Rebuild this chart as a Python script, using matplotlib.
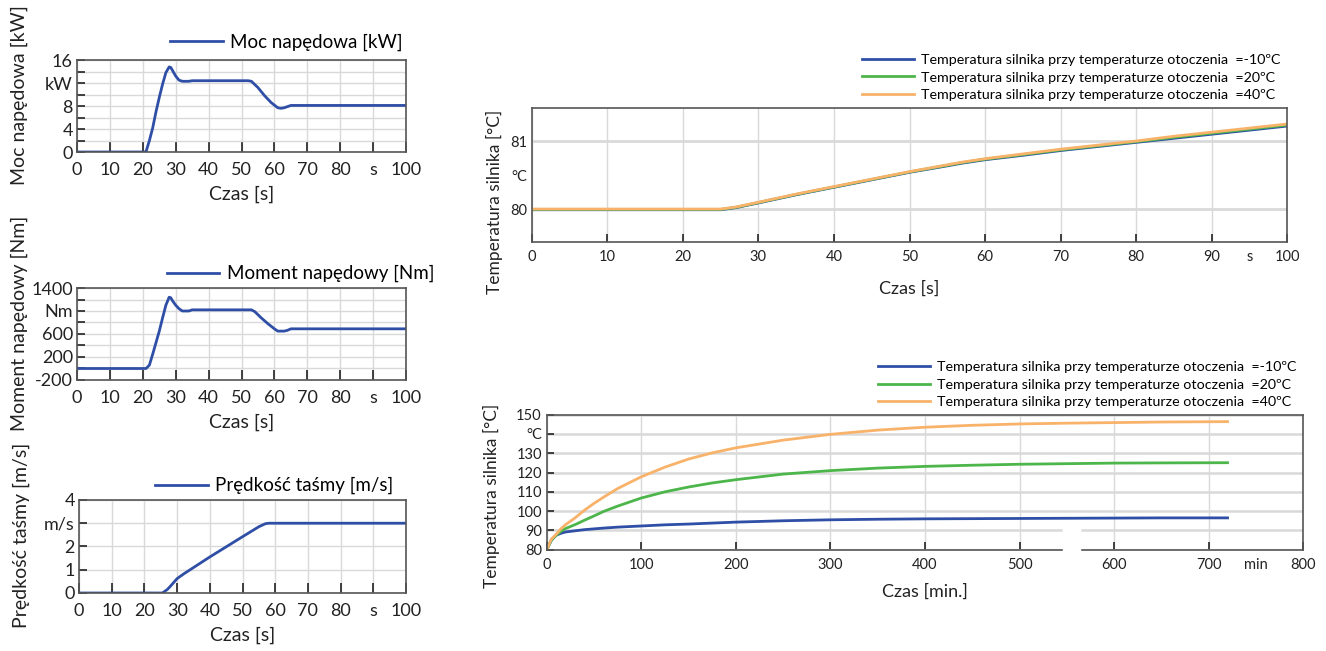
import matplotlib.pyplot as plt
import matplotlib.ticker as mticker

plt.rcParams['font.family'] = ['Lato', 'DejaVu Sans']

# --- dane: panele po lewej (czas w s) ---
t_moc = [0, 20.5, 21, 22, 23, 24, 25, 26, 27, 28, 28.5, 29, 30, 31, 32, 34, 35, 52, 53, 55, 57, 59, 61, 62, 63, 64, 65, 100]
moc = [0, 0, 0.1, 2, 4.2, 7, 9.5, 11.8, 13.8, 14.8, 14.7, 14.2, 13.2, 12.5, 12.3, 12.3, 12.4, 12.4, 12.3, 11.2, 9.8, 8.6, 7.7, 7.6, 7.7, 7.9, 8.1, 8.1]

t_mom = [0, 21, 22, 23, 24, 25, 26, 27, 28, 28.5, 29, 30, 31, 32, 34, 35, 53, 54, 56, 58, 60, 61, 63, 64, 65, 100]
moment = [0, 0, 60, 250, 450, 650, 880, 1100, 1240, 1230, 1180, 1100, 1040, 1000, 1000, 1020, 1020, 990, 880, 780, 690, 650, 650, 665, 690, 690]

t_pr = [0, 25.5, 27, 28, 30, 32, 40, 50, 55, 57, 58, 100]
predkosc = [0, 0, 0.15, 0.3, 0.62, 0.82, 1.55, 2.42, 2.85, 2.98, 3.0, 3.0]

# --- dane: temperatura silnika, 0-100 s ---
t_krotki = [0, 10, 23, 25, 27, 30, 35, 40, 45, 50, 55, 57, 60, 65, 70, 75, 80, 85, 90, 95, 100]
temp_k_m10 = [79.99, 79.99, 79.99, 79.99, 80.02, 80.09, 80.21, 80.32, 80.43, 80.54, 80.635, 80.675, 80.725, 80.79, 80.86, 80.92, 80.98, 81.04, 81.1, 81.16, 81.22]
temp_k_20 = [79.995, 79.995, 79.995, 79.995, 80.025, 80.095, 80.215, 80.325, 80.435, 80.545, 80.643, 80.683, 80.733, 80.8, 80.87, 80.93, 80.99, 81.055, 81.115, 81.175, 81.235]
temp_k_40 = [80.0, 80.0, 80.0, 80.0, 80.03, 80.1, 80.22, 80.33, 80.44, 80.55, 80.65, 80.69, 80.74, 80.81, 80.88, 80.94, 81.0, 81.07, 81.13, 81.19, 81.25]

# --- dane: temperatura silnika, 0-720 min ---
t_dlugi = [0, 5, 10, 15, 20, 30, 40, 50, 60, 75, 100, 125, 150, 175, 200, 250, 300, 350, 400, 450, 500, 550, 600, 650, 720]
temp_d_m10 = [80, 85, 87.5, 88.5, 89.2, 89.8, 90.4, 90.8, 91.2, 91.7, 92.3, 92.9, 93.3, 93.8, 94.3, 95.0, 95.5, 95.8, 96.0, 96.1, 96.2, 96.3, 96.4, 96.5, 96.5]
temp_d_20 = [80, 85, 87.5, 89.5, 91, 93, 95.3, 97.5, 99.8, 102.6, 106.8, 110.0, 112.5, 114.6, 116.3, 119.2, 121, 122.3, 123.2, 123.8, 124.3, 124.6, 124.9, 125.0, 125.1]
temp_d_40 = [80, 85.5, 88, 90.8, 93, 96.5, 100.5, 104, 107.2, 111.7, 117.8, 122.8, 127, 130.2, 132.8, 136.8, 139.8, 142, 143.5, 144.5, 145.2, 145.6, 145.9, 146.2, 146.4]

leg_lab = ['Temperatura silnika przy temperaturze otoczenia  =-10ºC',
           'Temperatura silnika przy temperaturze otoczenia  =20ºC',
           'Temperatura silnika przy temperaturze otoczenia  =40ºC']

BLUE = '#2f4ea6'
GREEN = '#4cb64a'
ORANGE = '#f8b26a'
GRID = '#d9d9d9'
TXT = '#222222'

fig = plt.figure(figsize=(13.26, 6.51), dpi=100)


def left_panel(rect, t, y, ylim, yticks, ylabels, minor, label, ylab, leg_x, leg_y):
	ax = fig.add_axes(rect)
	ax.plot(t, y, color=BLUE, lw=2, label=label)
	ax.set_xlim(0, 100)
	ax.set_ylim(*ylim)
	ax.set_xticks(range(0, 101, 10))
	ax.set_xticklabels(['0', '10', '20', '30', '40', '50', '60', '70', '80', 's', '100'])
	ax.set_yticks(yticks)
	ax.set_yticklabels(ylabels)
	ax.yaxis.set_minor_locator(mticker.MultipleLocator(minor))
	ax.grid(True, color=GRID, lw=1)
	ax.grid(True, which='minor', axis='y', color=GRID, lw=1)
	ax.set_axisbelow(True)
	ax.tick_params(axis='both', which='both', direction='in', labelsize=13, colors=TXT)
	ax.tick_params(axis='x', length=7, width=1.2, pad=7)
	ax.tick_params(axis='y', which='both', length=6, width=1.2, pad=3)
	for s in ax.spines.values():
		s.set_color('#555555')
		s.set_linewidth(1.2)
	ax.set_xlabel('Czas [s]', fontsize=14, color=TXT, labelpad=6)
	ax.set_ylabel(ylab, fontsize=14, color=TXT)
	ax.yaxis.set_label_coords(-0.15, 0.62)
	ax.legend(loc='lower left', bbox_to_anchor=(leg_x, leg_y), frameon=False,
	          fontsize=13.5, handlelength=2.8, handletextpad=0.4, borderaxespad=0)
	return ax


left_panel([0.0581, 0.7665, 0.2481, 0.1413], t_moc, moc, (0, 16),
           [0, 4, 8, 12, 16], ['0', '4', '8', 'kW', '16'], 2,
           'Moc napędowa [kW]', 'Moc napędowa [kW]', 0.26, 1.02)
left_panel([0.0581, 0.4163, 0.2481, 0.1413], t_mom, moment, (-200, 1400),
           [-200, 200, 600, 1000, 1400], ['-200', '200', '600', 'Nm', '1400'], 200,
           'Moment napędowy [Nm]', 'Moment napędowy [Nm]', 0.25, 0.98)
left_panel([0.0596, 0.0891, 0.2466, 0.1429], t_pr, predkosc, (0, 4),
           [0, 1, 2, 3, 4], ['0', '1', '2', 'm/s', '4'], 1,
           'Prędkość taśmy [m/s]', 'Prędkość taśmy [m/s]', 0.21, 0.98)


def right_style(ax):
	ax.grid(True, color=GRID, lw=1)
	ax.set_axisbelow(True)
	ax.tick_params(axis='both', which='both', direction='in', labelsize=10.5, colors=TXT, length=6, width=1.2)
	ax.tick_params(axis='x', which='both', pad=6)
	ax.tick_params(axis='x', which='minor', length=0)
	for s in ax.spines.values():
		s.set_color('#555555')
		s.set_linewidth(1.2)
	ax.legend(loc='lower right', bbox_to_anchor=(1.0, 1.0), frameon=False,
	          fontsize=10.3, handlelength=3.6, handletextpad=0.5, labelspacing=0.35, borderaxespad=0.1)


# --- temperatura 0-100 s ---
ax4 = fig.add_axes([0.4010, 0.6287, 0.5698, 0.2059])
ax4.plot(t_krotki, temp_k_m10, color=BLUE, lw=2, label=leg_lab[0])
ax4.plot(t_krotki, temp_k_20, color=GREEN, lw=2, label=leg_lab[1])
ax4.plot(t_krotki, temp_k_40, color=ORANGE, lw=2, label=leg_lab[2])
ax4.set_xlim(0, 100)
ax4.set_ylim(79.52, 81.49)
ax4.set_xticks(range(0, 101, 10))
ax4.set_xticks([95], minor=True)
ax4.set_xticklabels(['s'], minor=True)
ax4.set_yticks([80, 80.5, 81])
ax4.set_yticklabels(['80', '°C', '81'])
ax4.axhline(80, color=GRID, lw=2, zorder=0)
ax4.axhline(81, color=GRID, lw=2, zorder=0)
right_style(ax4)
ax4.grid(False, axis='y')
ax4.tick_params(axis='y', length=0)
ax4.set_xlabel('Czas [s]', fontsize=13, color=TXT, labelpad=12)
ax4.set_ylabel('Temperatura silnika [°C]', fontsize=12.5, color=TXT)
ax4.yaxis.set_label_coords(-0.038, 0.3)

# --- temperatura 0-720 min ---
ax5 = fig.add_axes([0.4123, 0.1556, 0.5705, 0.2074])
ax5.plot(t_dlugi, temp_d_m10, color=BLUE, lw=2, label=leg_lab[0])
ax5.plot(t_dlugi, temp_d_20, color=GREEN, lw=2, label=leg_lab[1])
ax5.plot(t_dlugi, temp_d_40, color=ORANGE, lw=2, label=leg_lab[2])
ax5.set_xlim(0, 800)
ax5.set_ylim(80, 150)
ax5.set_xticks(range(0, 801, 100))
ax5.set_xticks([750], minor=True)
ax5.set_xticklabels(['min'], minor=True)
ax5.set_yticks(range(80, 151, 10))
ax5.set_yticklabels(['80', '90', '100', '110', '120', '130', '°C', '150'])
right_style(ax5)
ax5.grid(True, axis='y', color=GRID, lw=1.8)
ax5.tick_params(axis='y', length=5)
# przerwa w osi
ax5.axvspan(546, 564, ymin=-0.02, ymax=0.16, color='white', zorder=3, clip_on=False)
ax5.set_xlabel('Czas [min.]', fontsize=13, color=TXT, labelpad=8)
ax5.set_ylabel('Temperatura silnika [°C]', fontsize=12.5, color=TXT)
ax5.yaxis.set_label_coords(-0.062, 0.4)

fig.savefig('out.png', dpi=100)
